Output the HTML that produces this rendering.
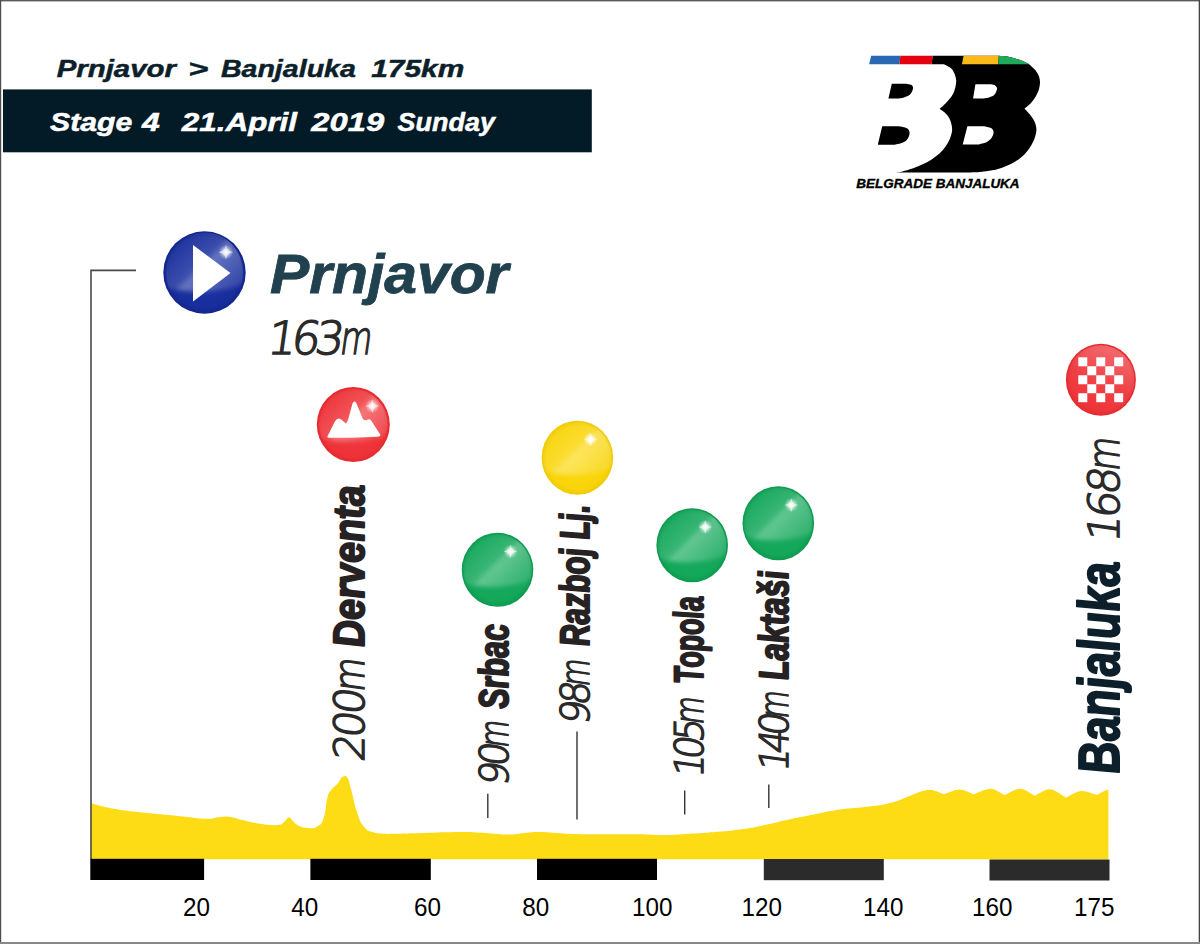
<!DOCTYPE html>
<html lang="en">
<head>
<meta charset="utf-8">
<title>Stage 4 Prnjavor - Banjaluka</title>
<style>
html,body{margin:0;padding:0;background:#fff;}
body{width:1200px;height:944px;overflow:hidden;}
svg{display:block;}
.hd{font-family:"Liberation Sans",sans-serif;font-weight:bold;font-style:italic;}
.bi{font-family:"Liberation Sans",sans-serif;font-weight:bold;font-style:italic;}
.th{font-family:"DejaVu Sans Light","DejaVu Sans","Liberation Sans",sans-serif;font-weight:200;font-style:normal;}
.ax{font-family:"Liberation Sans",sans-serif;font-size:25.2px;fill:#000;}
</style>
</head>
<body>
<svg width="1200" height="944" viewBox="0 0 1200 944">
<defs>
  <radialGradient id="gGreen" cx="0.5" cy="0.5" r="0.5">
    <stop offset="0" stop-color="#17ab5e"/>
    <stop offset="0.85" stop-color="#13a75a"/>
    <stop offset="1" stop-color="#0d9a50"/>
  </radialGradient>
  <radialGradient id="gYellow" cx="0.5" cy="0.5" r="0.5">
    <stop offset="0" stop-color="#fbd90f"/>
    <stop offset="0.85" stop-color="#f9d40a"/>
    <stop offset="1" stop-color="#efc904"/>
  </radialGradient>
  <radialGradient id="gRed" cx="0.5" cy="0.5" r="0.5">
    <stop offset="0" stop-color="#ef383d"/>
    <stop offset="0.85" stop-color="#ee3338"/>
    <stop offset="1" stop-color="#e42a30"/>
  </radialGradient>
  <radialGradient id="gBlue" cx="0.5" cy="0.5" r="0.5">
    <stop offset="0" stop-color="#1b33a4"/>
    <stop offset="0.85" stop-color="#182e9c"/>
    <stop offset="1" stop-color="#13258c"/>
  </radialGradient>
  <linearGradient id="gFin" x1="0.75" y1="0.05" x2="0.35" y2="0.95">
    <stop offset="0" stop-color="#fff" stop-opacity="0.28"/>
    <stop offset="0.55" stop-color="#fff" stop-opacity="0.06"/>
    <stop offset="1" stop-color="#fff" stop-opacity="0"/>
  </linearGradient>
  <linearGradient id="gSheen" gradientUnits="userSpaceOnUse" x1="-25.06" y1="-25.85" x2="25.06" y2="25.85">
    <stop offset="0" stop-color="#fff" stop-opacity="0.03"/>
    <stop offset="0.38" stop-color="#fff" stop-opacity="0.15"/>
    <stop offset="0.445" stop-color="#fff" stop-opacity="0.33"/>
    <stop offset="0.75" stop-color="#fff" stop-opacity="0.19"/>
    <stop offset="1" stop-color="#fff" stop-opacity="0.08"/>
  </linearGradient>
  <filter id="fBlur" x="-20%" y="-20%" width="140%" height="140%"><feGaussianBlur stdDeviation="2.1"/></filter>
  <filter id="fBlur2" x="-50%" y="-50%" width="200%" height="200%"><feGaussianBlur stdDeviation="0.5"/></filter>
  <clipPath id="cBall"><ellipse cx="0" cy="0" rx="34.2" ry="35.4"/></clipPath>
  <radialGradient id="gSpark" cx="0.5" cy="0.5" r="0.5">
    <stop offset="0" stop-color="#fff" stop-opacity="1"/>
    <stop offset="0.3" stop-color="#fff" stop-opacity="0.7"/>
    <stop offset="1" stop-color="#fff" stop-opacity="0"/>
  </radialGradient>
</defs>

<!-- background + frame -->
<rect x="0" y="0" width="1200" height="944" fill="#fff"/>

<!-- HEADER -->
<g id="header">
  <rect x="3" y="89.4" width="588.8" height="62.9" fill="#031a27"/>
  <text class="hd" y="76.7" font-size="24.3" fill="#0c1f2b" stroke="#0c1f2b" stroke-width="0.5"><tspan x="56.7" textLength="119.3" lengthAdjust="spacingAndGlyphs">Prnjavor</tspan> <tspan x="188.3" textLength="20" lengthAdjust="spacingAndGlyphs">&gt;</tspan> <tspan x="220.9" textLength="135" lengthAdjust="spacingAndGlyphs">Banjaluka</tspan> <tspan x="371.2" textLength="93" lengthAdjust="spacingAndGlyphs">175km</tspan></text>
  <text class="hd" y="131.3" font-size="26.2" fill="#fff" stroke="#fff" stroke-width="0.5"><tspan x="50" textLength="82.3" lengthAdjust="spacingAndGlyphs">Stage</tspan> <tspan x="142" textLength="17.8" lengthAdjust="spacingAndGlyphs">4</tspan> <tspan x="181.8" textLength="115.3" lengthAdjust="spacingAndGlyphs">21.April</tspan> <tspan x="311.3" textLength="72.8" lengthAdjust="spacingAndGlyphs">2019</tspan> <tspan x="397.6" textLength="97.3" lengthAdjust="spacingAndGlyphs">Sunday</tspan></text>
</g>

<!-- LOGO -->
<g id="logo">
<path d="M932.7,55.85 L998.7,55.85 C1000.5,56.0 1005.8,56.2 1009.3,56.9 C1012.8,57.6 1016.7,58.8 1019.5,59.8 C1022.3,60.8 1024.6,62.0 1026.3,62.8 C1028.0,63.6 1028.2,63.4 1029.7,64.7 C1031.2,66.0 1034.0,68.5 1035.6,70.4 C1037.1,72.4 1038.3,74.4 1039.0,76.4 C1039.7,78.4 1040.0,80.2 1040.0,82.3 C1040.0,84.4 1039.7,86.6 1039.0,89.0 C1038.3,91.4 1037.0,94.3 1035.6,96.7 C1034.2,99.1 1032.4,101.5 1030.5,103.5 C1028.6,105.5 1025.4,107.7 1024.4,108.5 C1025.4,109.6 1028.8,113.0 1030.5,115.2 C1032.2,117.5 1033.7,119.6 1034.7,122.0 C1035.7,124.4 1036.4,126.9 1036.4,129.6 C1036.4,132.3 1035.7,135.2 1034.7,138.0 C1033.7,140.8 1032.2,143.8 1030.5,146.5 C1028.8,149.2 1027.0,151.8 1024.6,154.2 C1022.2,156.6 1019.4,158.9 1016.1,160.9 C1012.9,162.9 1009.1,164.8 1005.1,166.4 C1001.1,168.0 996.6,169.4 992.4,170.3 C988.2,171.2 984.0,171.7 979.7,172.1 C975.5,172.5 969.0,172.5 966.9,172.6 L896.4,172.5 C897.4,172.3 899.7,172.2 902.4,171.5 C905.1,170.8 909.1,169.8 912.5,168.6 C915.9,167.4 919.5,165.9 922.7,164.3 C926.0,162.7 929.2,161.0 932.0,159.2 C934.8,157.4 937.4,155.4 939.7,153.3 C942.0,151.2 943.9,148.9 945.6,146.5 C947.3,144.1 948.7,141.4 949.8,138.9 C950.9,136.4 951.7,133.7 952.0,131.3 C952.3,128.9 952.0,126.8 951.5,124.5 C951.0,122.2 950.1,119.7 949.0,117.7 C947.9,115.7 946.2,114.1 944.7,112.6 C943.2,111.1 940.5,109.5 939.7,108.9 C940.8,107.9 944.3,104.9 946.4,102.6 C948.5,100.3 950.9,97.5 952.4,95.0 C953.9,92.5 954.7,89.8 955.3,87.4 C955.9,85.0 956.3,82.7 956.2,80.6 C956.1,78.5 955.7,76.7 954.9,74.7 C954.1,72.7 953.3,70.4 951.5,68.7 C949.7,67.0 945.2,65.0 943.9,64.3 L931.6,64.3 Z" fill="#000"/>
<path d="M975.4,84.2 L990,84.2 C990.8,84.3 993.4,84.5 994.5,85.0 C995.6,85.5 996.4,86.7 996.8,87.5 C997.2,88.3 997.2,88.7 996.8,89.9 C996.3,91.2 995.5,93.7 994.1,95.0 C992.7,96.3 990.1,97.1 988.1,97.7 C986.1,98.3 983.2,98.3 982.2,98.4 L973.1,98.4 Z" fill="#fff"/>
<path d="M967.4,126.2 L984,126.2 C985.2,126.5 989.4,127.0 991.0,128.0 C992.6,129.0 993.5,130.4 993.6,132.1 C993.7,133.8 992.7,136.4 991.5,138.1 C990.3,139.8 988.5,141.2 986.4,142.3 C984.3,143.4 980.1,144.1 978.8,144.4 L962.7,144.6 Z" fill="#fff"/>
<path d="M891.8,83.8 L906,83.8 C906.9,84.0 910.3,84.2 911.5,85.0 C912.7,85.8 913.2,86.9 913.0,88.5 C912.8,90.1 911.5,93.1 910.0,94.6 C908.5,96.1 906.1,96.8 904.0,97.5 C901.9,98.2 898.4,98.4 897.3,98.6 L888.4,98.6 Z" fill="#000"/>
<path d="M882.2,126.2 L899,126.2 C900.3,126.6 905.2,127.2 907.0,128.3 C908.8,129.4 909.5,131.2 909.6,133.0 C909.7,134.8 908.7,137.3 907.5,138.9 C906.3,140.5 904.7,141.7 902.4,142.7 C900.1,143.7 895.3,144.5 893.9,144.8 L877.8,144.8 Z" fill="#000"/>
<path d="M871.2,55.85 L900.4,55.85 L899.4,64.3 L869.1,64.3 Z" fill="#2968b2"/>
<path d="M900.4,55.85 L932.8,55.85 L931.6,64.3 L899.4,64.3 Z" fill="#e3000f"/>
<path d="M963.6,55.85 L998.8,55.85 L998.2,64.3 L961.9,64.3 Z" fill="#fbba1a"/>
<path d="M998.2,64.3 L998.8,55.85 C1000.5,56.0 1005.8,56.2 1009.3,56.9 C1012.8,57.6 1016.7,58.8 1019.5,59.8 C1022.3,60.8 1024.7,62.0 1026.3,62.8 C1027.9,63.5 1028.7,64.0 1029.2,64.3 Z" fill="#1eaa5a"/>
  <text class="bi" x="856.3" y="187.7" font-size="13" fill="#000" stroke="#000" stroke-width="0.35" textLength="163.3" lengthAdjust="spacingAndGlyphs">BELGRADE BANJALUKA</text>
</g>

<!-- START -->
<g id="start">
  <circle cx="204.5" cy="272.5" r="41.2" fill="url(#gBlue)"/>
  <g transform="translate(204.5,272.5) scale(1.13)">
    <g clip-path="url(#cBall)"><path d="M-40,-40 H40 V8 Q12,20.5 -21,16 Q-30,14.5 -40,12 Z" fill="url(#gSheen)" filter="url(#fBlur)"/></g>
    <circle cx="19" cy="-18" r="6.5" fill="url(#gSpark)"/>
    <path d="M0,-6.5 Q0.8,-0.8 6.5,0 Q0.8,0.8 0,6.5 Q-0.8,0.8 -6.5,0 Q-0.8,-0.8 0,-6.5 Z" transform="translate(19,-18)" fill="#fff" fill-opacity="0.6" filter="url(#fBlur2)"/>
  </g>
  <path d="M193,245 L230.5,273 L193,301.5 Z" fill="#fff"/>
  <text class="bi" x="270" y="293" font-size="55.2" fill="#21414f" stroke="#21414f" stroke-width="0.8" textLength="238.5" lengthAdjust="spacingAndGlyphs">Prnjavor</text>
  <text class="th" transform="translate(266,354.4) skewX(-8)" font-size="45.5" fill="#2a2a2a" stroke="#2a2a2a" stroke-width="1.5" letter-spacing="-5.2">163<tspan dx="1.6" textLength="28" lengthAdjust="spacingAndGlyphs">m</tspan></text>
</g>

<!-- MARKERS -->
<g id="markers">
  <ellipse cx="353.3" cy="424.5" rx="36.5" ry="37.5" fill="url(#gRed)"/>
  <g transform="translate(353.3,424.5) scale(1.0)">
    <g clip-path="url(#cBall)"><path d="M-40,-40 H40 V8 Q12,20.5 -21,16 Q-30,14.5 -40,12 Z" fill="url(#gSheen)" filter="url(#fBlur)"/></g>
    <circle cx="19" cy="-18.4" r="7" fill="url(#gSpark)"/>
    <path d="M0,-7 Q0.8,-0.8 7,0 Q0.8,0.8 0,7 Q-0.8,0.8 -7,0 Q-0.8,-0.8 0,-7 Z" transform="translate(19,-18.4)" fill="#fff" fill-opacity="0.6" filter="url(#fBlur2)"/>
  </g>
  <path d="M327.4,436.4 L335,421.3 Q337,418.2 339,418.5 Q341.4,419.2 346,423.6 Q347.6,422 349,416.6 L352.4,403.8 Q354.3,399.8 356.3,403 L362.9,419 Q364.5,420.6 366,420.2 Q369.4,418.4 371,420.3 L380.4,434.7 Q380.6,436.5 376.9,436.8 L352.4,437.8 L329.1,437.7 Q327,437.7 327.4,436.4 Z" fill="#fff"/>
  <ellipse cx="577.4" cy="457.7" rx="35.8" ry="37" fill="url(#gYellow)"/>
  <g transform="translate(577.4,457.7) scale(1.0)">
    <g clip-path="url(#cBall)"><path d="M-40,-40 H40 V8 Q12,20.5 -21,16 Q-30,14.5 -40,12 Z" fill="url(#gSheen)" filter="url(#fBlur)"/></g>
    <circle cx="13" cy="-18.3" r="7" fill="url(#gSpark)"/>
    <path d="M0,-7 Q0.8,-0.8 7,0 Q0.8,0.8 0,7 Q-0.8,0.8 -7,0 Q-0.8,-0.8 0,-7 Z" transform="translate(13,-18.3)" fill="#fff" fill-opacity="0.6" filter="url(#fBlur2)"/>
  </g>
  <ellipse cx="497.5" cy="569.8" rx="35.8" ry="37" fill="url(#gGreen)"/>
  <g transform="translate(497.5,569.8) scale(1.0)">
    <g clip-path="url(#cBall)"><path d="M-40,-40 H40 V8 Q12,20.5 -21,16 Q-30,14.5 -40,12 Z" fill="url(#gSheen)" filter="url(#fBlur)"/></g>
    <circle cx="13" cy="-18.3" r="7" fill="url(#gSpark)"/>
    <path d="M0,-7 Q0.8,-0.8 7,0 Q0.8,0.8 0,7 Q-0.8,0.8 -7,0 Q-0.8,-0.8 0,-7 Z" transform="translate(13,-18.3)" fill="#fff" fill-opacity="0.6" filter="url(#fBlur2)"/>
  </g>
  <ellipse cx="692.2" cy="545.2" rx="35.8" ry="37" fill="url(#gGreen)"/>
  <g transform="translate(692.2,545.2) scale(1.0)">
    <g clip-path="url(#cBall)"><path d="M-40,-40 H40 V8 Q12,20.5 -21,16 Q-30,14.5 -40,12 Z" fill="url(#gSheen)" filter="url(#fBlur)"/></g>
    <circle cx="13" cy="-18.3" r="7" fill="url(#gSpark)"/>
    <path d="M0,-7 Q0.8,-0.8 7,0 Q0.8,0.8 0,7 Q-0.8,0.8 -7,0 Q-0.8,-0.8 0,-7 Z" transform="translate(13,-18.3)" fill="#fff" fill-opacity="0.6" filter="url(#fBlur2)"/>
  </g>
  <ellipse cx="778.3" cy="523.2" rx="35.8" ry="37" fill="url(#gGreen)"/>
  <g transform="translate(778.3,523.2) scale(1.0)">
    <g clip-path="url(#cBall)"><path d="M-40,-40 H40 V8 Q12,20.5 -21,16 Q-30,14.5 -40,12 Z" fill="url(#gSheen)" filter="url(#fBlur)"/></g>
    <circle cx="13" cy="-18.3" r="7" fill="url(#gSpark)"/>
    <path d="M0,-7 Q0.8,-0.8 7,0 Q0.8,0.8 0,7 Q-0.8,0.8 -7,0 Q-0.8,-0.8 0,-7 Z" transform="translate(13,-18.3)" fill="#fff" fill-opacity="0.6" filter="url(#fBlur2)"/>
  </g>
  <ellipse cx="1100.9" cy="379.8" rx="35" ry="36" fill="url(#gRed)"/>
  <ellipse cx="1100.9" cy="379.8" rx="33.5" ry="34.5" fill="url(#gFin)"/>
  <g fill="#fff"><rect x="1078.30" y="357.30" width="8.98" height="8.98"/><rect x="1096.26" y="357.30" width="8.98" height="8.98"/><rect x="1114.22" y="357.30" width="8.98" height="8.98"/><rect x="1087.28" y="366.28" width="8.98" height="8.98"/><rect x="1105.24" y="366.28" width="8.98" height="8.98"/><rect x="1078.30" y="375.26" width="8.98" height="8.98"/><rect x="1096.26" y="375.26" width="8.98" height="8.98"/><rect x="1114.22" y="375.26" width="8.98" height="8.98"/><rect x="1087.28" y="384.24" width="8.98" height="8.98"/><rect x="1105.24" y="384.24" width="8.98" height="8.98"/><rect x="1078.30" y="393.22" width="8.98" height="8.98"/><rect x="1096.26" y="393.22" width="8.98" height="8.98"/><rect x="1114.22" y="393.22" width="8.98" height="8.98"/></g>
</g>


<!-- LABELS -->
<g id="labels">
  <text class="th" transform="translate(364.3,762.5) rotate(-90) skewX(-8) scale(1,1)" font-size="41.8" fill="#2a2a2a" stroke="#2a2a2a" stroke-width="1.5" letter-spacing="-3.4">200<tspan textLength="31" lengthAdjust="spacingAndGlyphs">m</tspan></text>
  <text class="bi" transform="translate(364.3,646.5) rotate(-90) skewX(3.5)" font-size="44" fill="#262223" stroke="#262223" stroke-width="2" stroke-linejoin="round" textLength="162" lengthAdjust="spacingAndGlyphs">Derventa</text>
  <text class="th" transform="translate(507.9,787) rotate(-90) skewX(-8) scale(0.95,1)" font-size="39.6" fill="#2a2a2a" stroke="#2a2a2a" stroke-width="1.5" letter-spacing="-5.0">90<tspan textLength="25" lengthAdjust="spacingAndGlyphs">m</tspan></text>
  <text class="bi" transform="translate(507.9,708.3) rotate(-90) skewX(3.5)" font-size="41.4" fill="#262223" stroke="#262223" stroke-width="2" stroke-linejoin="round" textLength="85" lengthAdjust="spacingAndGlyphs">Srbac</text>
  <text class="th" transform="translate(588.8,725.8) rotate(-90) skewX(-8) scale(0.95,1)" font-size="39.6" fill="#2a2a2a" stroke="#2a2a2a" stroke-width="1.5" letter-spacing="-5.0">98<tspan textLength="25" lengthAdjust="spacingAndGlyphs">m</tspan></text>
  <text class="bi" transform="translate(588.8,645.6) rotate(-90) skewX(3.5)" font-size="41.4" fill="#262223" stroke="#262223" stroke-width="2" stroke-linejoin="round" textLength="141.5" lengthAdjust="spacingAndGlyphs">Razboj Lj.</text>
  <text class="th" transform="translate(703.4,778.5) rotate(-90) skewX(-8) scale(0.93,1)" font-size="39.6" fill="#2a2a2a" stroke="#2a2a2a" stroke-width="1.5" letter-spacing="-6.2">105<tspan textLength="25" lengthAdjust="spacingAndGlyphs">m</tspan></text>
  <text class="bi" transform="translate(703.4,682.5) rotate(-90) skewX(3.5)" font-size="41.4" fill="#262223" stroke="#262223" stroke-width="2" stroke-linejoin="round" textLength="87" lengthAdjust="spacingAndGlyphs">Topola</text>
  <text class="th" transform="translate(788,772.5) rotate(-90) skewX(-8) scale(0.93,1)" font-size="39.6" fill="#2a2a2a" stroke="#2a2a2a" stroke-width="1.5" letter-spacing="-6.2">140<tspan textLength="25" lengthAdjust="spacingAndGlyphs">m</tspan></text>
  <text class="bi" transform="translate(788,679.5) rotate(-90) skewX(3.5)" font-size="41.4" fill="#262223" stroke="#262223" stroke-width="2" stroke-linejoin="round" textLength="109.5" lengthAdjust="spacingAndGlyphs">Laktaši</text>
  <text class="bi" transform="translate(1118.5,773) rotate(-90) skewX(3.5)" font-size="58" fill="#0c1f2b" stroke="#0c1f2b" stroke-width="2" stroke-linejoin="round" textLength="212" lengthAdjust="spacingAndGlyphs">Banjaluka</text>
  <text class="th" transform="translate(1118.5,543.5) rotate(-90) skewX(-8) scale(1,1)" font-size="43" fill="#2a2a2a" stroke="#2a2a2a" stroke-width="1.5" letter-spacing="-3.6">168<tspan textLength="31" lengthAdjust="spacingAndGlyphs">m</tspan></text>
  <g stroke="#333" stroke-width="1.4" fill="none">
    <path d="M487.8,793.7 V818"/>
    <path d="M577,731.6 V819.4"/>
    <path d="M684.7,790.4 V814.6"/>
    <path d="M768.8,784.4 V808"/>
  </g>
</g>


<!-- PROFILE -->
<g id="profile">
  <path d="M90.5,803 C92.5,803.6 92.8,803.9 98,805.2 C103.2,806.5 102.8,806.6 110,808 C117.2,809.4 116.3,809.4 125,810.6 C133.7,811.8 127.8,811.1 142.5,812.6 C157.2,814.1 163.0,814.6 180,816.25 C197.0,817.9 195.6,818.5 206.25,818.75 C216.9,819.0 213.7,817.5 220,817 C226.3,816.5 224.0,816.2 230,817 C236.0,817.8 234.5,818.2 242.5,820 C250.5,821.8 250.7,822.4 260,823.75 C269.3,825.1 271.1,825.5 277.5,825 C283.9,824.5 281.0,824.0 284,822 C287.0,820.0 286.4,817.8 288.75,817.5 C291.1,817.2 290.7,819.0 293,821 C295.3,823.0 293.6,823.1 297.5,825 C301.4,826.9 302.2,827.7 307.5,828 C312.8,828.3 313.2,829.0 317.5,826.25 C321.8,823.5 321.1,825.2 323.75,817.5 C326.4,809.8 325.5,804.8 327.5,797.5 C329.5,790.2 328.6,793.7 331.25,790 C333.9,786.3 334.5,787.2 337.5,783.75 C340.5,780.3 339.8,778.5 342.5,777 C345.2,775.5 345.2,774.5 347.5,778 C349.8,781.5 348.6,780.5 351.25,790 C353.9,799.5 354.0,803.8 357.5,813.75 C361.0,823.7 360.5,822.4 364.5,827.3 C368.5,832.2 367.8,830.3 372.5,832 C377.2,833.7 376.0,833.1 382,833.6 C388.0,834.1 384.2,833.9 395,833.75 C405.8,833.6 405.2,833.5 422.5,833 C439.8,832.5 445.3,832.1 460,832 C474.7,831.9 468.2,832.0 477.5,832.5 C486.8,833.0 486.3,833.2 495,833.75 C503.7,834.3 502.0,834.7 510,834.5 C518.0,834.3 517.0,833.7 525,833 C533.0,832.3 530.7,831.9 540,832 C549.3,832.1 548.0,832.6 560,833.25 C572.0,833.9 571.7,834.0 585,834.25 C598.3,834.5 595.3,834.2 610,834.25 C624.7,834.2 625.3,834.0 640,834.25 C654.7,834.5 651.7,835.1 665,835 C678.3,834.9 676.7,834.5 690,833.75 C703.3,833.0 701.7,833.1 715,832 C728.3,830.9 726.7,831.4 740,829.5 C753.3,827.6 751.7,827.7 765,825 C778.3,822.3 776.7,822.1 790,819.25 C803.3,816.4 801.7,816.9 815,814.25 C828.3,811.6 826.7,811.4 840,809.5 C853.3,807.6 851.7,808.7 865,807 C878.3,805.3 878.0,806.0 890,803 C902.0,800.0 901.7,798.8 910,795.75 C918.3,792.7 915.8,793.2 921,791.6 C926.2,790.0 927.2,790.3 929.4,789.8 C934.4,789.8 940.5,793.3 944,794.2 C947.7,793.3 954.3,789.6 959.6,789.6 C964.3,789.6 970.1,793.3 973.4,794.2 C977.6,793.1 984.9,788.7 990.8,788.7 C995.5,788.7 1001.3,793.8 1004.6,795.1 C1008.3,793.8 1014.9,788.7 1020.2,788.7 C1025.2,788.7 1031.4,794.3 1034.9,795.7 C1038.4,794.4 1044.5,789.3 1049.5,789.3 C1055.1,789.3 1062.1,795.9 1066.1,797.5 C1069.8,796.2 1076.4,791.1 1081.7,791.1 C1087.0,791.1 1093.5,794.3 1097.2,795.1 C1100,793 1104,790.6 1108.4,789.4 L1108.4,859.2 L90.5,859.2 Z" fill="#fddb15"/>
  <path d="M136,270.4 H91 V859.5" fill="none" stroke="#4a4a4a" stroke-width="1.6"/>
  <rect x="90.3" y="858.8" width="113.8" height="21.2" fill="#000"/>
  <rect x="310.4" y="858.8" width="120.4" height="21.2" fill="#000"/>
  <rect x="537" y="858.8" width="120" height="21.2" fill="#000"/>
  <rect x="763.8" y="859" width="120" height="21.2" fill="#2b2b2b"/>
  <rect x="989.5" y="859.5" width="120" height="21" fill="#2b2b2b"/>
</g>

<!-- AXIS -->
<g id="axis" class="ax">
  <text x="183" y="916" textLength="27.0" lengthAdjust="spacingAndGlyphs">20</text>
  <text x="291.3" y="916" textLength="27.0" lengthAdjust="spacingAndGlyphs">40</text>
  <text x="414" y="916" textLength="27.0" lengthAdjust="spacingAndGlyphs">60</text>
  <text x="522.3" y="916" textLength="27.0" lengthAdjust="spacingAndGlyphs">80</text>
  <text x="632" y="916" textLength="40.4" lengthAdjust="spacingAndGlyphs">100</text>
  <text x="741.5" y="916" textLength="40.4" lengthAdjust="spacingAndGlyphs">120</text>
  <text x="863" y="916" textLength="40.4" lengthAdjust="spacingAndGlyphs">140</text>
  <text x="972" y="916" textLength="40.4" lengthAdjust="spacingAndGlyphs">160</text>
  <text x="1074" y="916" textLength="40.4" lengthAdjust="spacingAndGlyphs">175</text>
</g>

<!-- frame -->
<rect x="0" y="0" width="1200" height="1.4" fill="#5a5a5a"/>
<rect x="0" y="0" width="1.2" height="944" fill="#4d4d4d"/>
<rect x="1198.7" y="0" width="1.3" height="944" fill="#444"/>
<rect x="0" y="942" width="1200" height="2" fill="#888"/>
</svg>
</body>
</html>
